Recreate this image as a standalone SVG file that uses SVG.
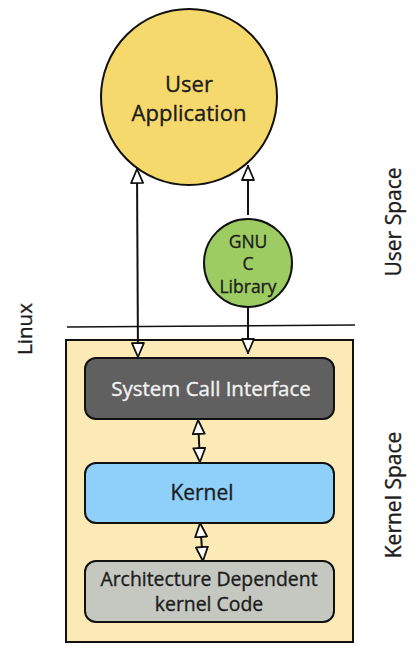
<svg xmlns="http://www.w3.org/2000/svg" width="419" height="651" viewBox="0 0 419 651">
<defs>
<marker id="tri" viewBox="0 0 16 14" refX="16" refY="7" markerWidth="16" markerHeight="14" markerUnits="userSpaceOnUse" orient="auto-start-reverse">
<path d="M1,1 L15,7 L1,13 Z" fill="#fff" stroke="#111" stroke-width="1.8" stroke-linejoin="round"/>
</marker>
</defs>
<style>
text{font-family:"Open Sans","Noto Sans",sans-serif;text-anchor:middle;dominant-baseline:central;fill:#1c1c1c;stroke:#1c1c1c;stroke-width:0.35}
.edge{stroke:#111;stroke-width:2;fill:none}
.node{stroke:#111;stroke-width:2}
.lbl{font-size:21px}
</style>
<rect width="419" height="651" fill="#fff"/>
<g id="space-divider">
<path d="M67,327 L355,325" stroke="#111" stroke-width="1.6" fill="none"/>
</g>
<g id="linux">
<rect x="66" y="340" width="287" height="302" fill="#fbeab6" stroke="#111" stroke-width="2"/>
</g>
<g id="user-application">
<circle cx="189" cy="97" r="88" class="node" fill="#f6d96c"/>
<text x="189" y="83" style="font-size:22px">User</text>
<text x="189" y="112" style="font-size:22px">Application</text>
</g>
<g id="gnu-c-library">
<circle cx="248" cy="263" r="44" class="node" fill="#9dcc63"/>
<text x="248" y="241" style="font-size:17.5px">GNU</text>
<text x="248" y="263" style="font-size:17.5px">C</text>
<text x="248" y="286" style="font-size:17.5px">Library</text>
</g>
<g id="system-call-interface">
<rect x="85" y="358" width="249" height="61" rx="11" class="node" fill="#606060"/>
<text x="211" y="388" style="font-size:20.5px;fill:#f2f2f2;stroke:#f2f2f2">System Call Interface</text>
</g>
<g id="kernel">
<rect x="85" y="463" width="249" height="60" rx="11" class="node" fill="#8fd0fb"/>
<text x="202" y="492" style="font-size:21px">Kernel</text>
</g>
<g id="arch-code">
<rect x="85" y="561" width="249" height="61" rx="11" class="node" fill="#c5c7c1"/>
<text x="209" y="578" style="font-size:19.4px">Architecture Dependent</text>
<text x="209" y="603" style="font-size:19.4px">kernel Code</text>
</g>
<g id="connectors">
<path class="edge" d="M137,168 L138,358" marker-start="url(#tri)" marker-end="url(#tri)"/>
<path class="edge" d="M248,165 L248,215" marker-start="url(#tri)"/>
<path class="edge" d="M248,307 L248,354" marker-end="url(#tri)"/>
<path class="edge" d="M198,419 L200,463" marker-start="url(#tri)" marker-end="url(#tri)"/>
<path class="edge" d="M200,522 L203,562" marker-start="url(#tri)" marker-end="url(#tri)"/>
</g>
<g id="labels">
<text class="lbl" transform="translate(24,329) rotate(-90)" style="font-size:20.5px">Linux</text>
<text class="lbl" transform="translate(393,222) rotate(-90)">User Space</text>
<text class="lbl" transform="translate(393,495) rotate(-90)">Kernel Space</text>
</g>
</svg>
